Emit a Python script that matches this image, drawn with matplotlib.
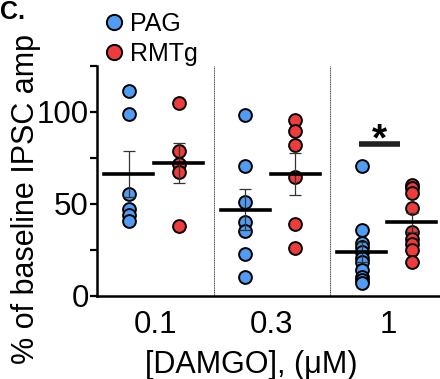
import numpy as np
import matplotlib
matplotlib.use("Agg")
import matplotlib.pyplot as plt
from matplotlib.lines import Line2D

plt.rcParams["font.family"] = ["Liberation Sans", "DejaVu Sans"]

doses = ["0.1", "0.3", "1"]
pag_vals = [
    [111.4, 98.9, 55.4, 47.3, 44.0, 40.8],
    [98.4, 70.7, 51.3, 40.0, 35.3, 22.7, 10.3],
    [70.7, 35.9, 28.6, 26.8, 24.1, 20.5, 18.6, 14.1, 10.5, 8.7, 6.9],
]
rmtg_vals = [
    [105.0, 79.0, 71.7, 67.6, 38.0],
    [95.7, 89.7, 82.1, 64.8, 39.0, 26.3],
    [60.3, 58.5, 56.1, 48.0, 34.9, 31.0, 28.0, 25.0, 18.6],
]
sig_y = 82.4

blue = "#4f9cf2"
red = "#ee3b3b"

fig = plt.figure(figsize=(4.4, 3.79), dpi=100)
ax = fig.add_axes([0.2205, 0.219, 0.795, 0.607])

def draw_group(vals, xs, color):
    for i, v in enumerate(vals):
        v = np.array(v)
        x = xs[i]
        ax.scatter(np.full(len(v), x), v, s=85, color=color, edgecolor="black",
                   linewidth=1.4, zorder=3)
        m = v.mean()
        sem = v.std(ddof=1) / np.sqrt(len(v))
        ax.errorbar(x, m, yerr=sem, color="#333333", lw=0.9, capsize=4,
                    capthick=0.9, zorder=4)
        ax.plot([x - 0.21, x + 0.21], [m, m], color="black", lw=2.6, zorder=5)

pos = np.arange(len(doses))
draw_group(pag_vals, pos - 0.23, blue)
draw_group(rmtg_vals, pos + 0.2, red)

for d in [0.5, 1.5]:
    ax.axvline(d, color="#444444", lw=0.8, ls=(0, (1, 0.6)), zorder=1)

# significance
ax.plot([1.75, 2.1], [sig_y, sig_y], color="#222222", lw=4, solid_capstyle="butt")
ax.text(1.925, 79, "*", ha="center", va="baseline", fontsize=28, fontweight="bold")

ax.set_xlim(-0.5, 2.5)
ax.set_ylim(0, 125)
ax.set_xticks(pos)
ax.set_xticklabels(doses, fontsize=22.5)
ax.set_yticks([0, 50, 100])
ax.set_yticklabels(["0", "50", "100"], fontsize=22.5)
ax.set_yticks([25, 75, 125], minor=True)
ax.tick_params(axis="x", length=0, pad=10)
ax.tick_params(axis="y", which="both", length=5, width=1.6, pad=1)
for s in ["top", "right"]:
    ax.spines[s].set_visible(False)
for s in ["left", "bottom"]:
    ax.spines[s].set_linewidth(1.8)

ax.set_xlabel("[DAMGO], (\u03bcM)", fontsize=22)
ax.xaxis.set_label_coords(0.44, -0.235)
ax.set_ylabel("% of baseline IPSC amp", fontsize=22)
ax.yaxis.set_label_coords(-0.16, 0.42)

handles = [
    Line2D([], [], ls="none", marker="o", markersize=11, markerfacecolor=blue,
           markeredgecolor="black", markeredgewidth=1.4),
    Line2D([], [], ls="none", marker="o", markersize=11, markerfacecolor=red,
           markeredgecolor="black", markeredgewidth=1.4),
]
fig.legend(handles, ["PAG", "RMTg"], loc="upper left", bbox_to_anchor=(0.19, 1.015),
           frameon=False, fontsize=18, handletextpad=0.15, labelspacing=0.25,
           handlelength=1.0, borderpad=0.2)

fig.text(0.0, 1.0, "C.", fontsize=18, fontweight="bold", ha="left", va="top")

fig.savefig("out.png", dpi=100)
